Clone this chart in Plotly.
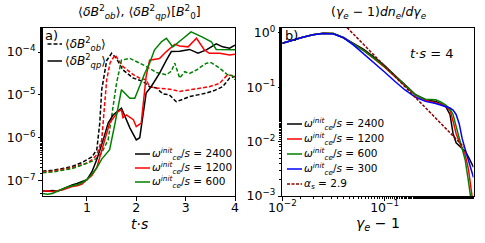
import plotly.graph_objects as go

# ---------------- Panel a) : <dB^2>(t) ----------------
t_ob_2400 = [0.1, 0.3, 0.5, 0.7, 0.9, 1.0, 1.1, 1.2, 1.26, 1.3, 1.4, 1.5, 1.6, 1.73, 1.94, 2.14, 2.27, 2.41, 2.54, 2.67, 2.81, 2.95, 3.08, 3.25, 3.42, 3.58, 3.75, 3.89, 4.0]
ob_2400_log10 = [-6.78, -6.76, -6.72, -6.67, -6.58, -6.51, -6.45, -6.28, -5.66, -4.88, -4.2, -4.03, -4.15, -4.42, -4.61, -4.69, -4.81, -4.84, -4.98, -5.0, -5.16, -5.1, -5.04, -5.0, -4.96, -4.9, -4.81, -4.61, -4.57]

t_ob_1200 = [0.1, 0.3, 0.5, 0.7, 0.9, 1.0, 1.1, 1.2, 1.3, 1.36, 1.4, 1.47, 1.57, 1.73, 1.94, 2.07, 2.2, 2.27, 2.41, 2.6, 2.74, 2.88, 3.08, 3.28, 3.48, 3.69, 3.85, 4.0]
ob_1200_log10 = [-6.80, -6.78, -6.74, -6.70, -6.63, -6.59, -6.52, -6.40, -6.05, -5.27, -4.65, -4.25, -4.07, -4.34, -4.53, -4.61, -4.65, -4.81, -4.84, -4.86, -4.88, -4.92, -4.88, -4.84, -4.81, -4.73, -4.53, -4.57]

t_ob_600 = [0.1, 0.3, 0.5, 0.7, 0.9, 1.0, 1.1, 1.2, 1.3, 1.43, 1.53, 1.6, 1.70, 1.87, 2.14, 2.41, 2.61, 2.71, 2.78, 2.88, 2.98, 3.08, 3.22, 3.42, 3.52, 3.69, 3.85, 3.95, 4.0]
ob_600_log10 = [-6.82, -6.80, -6.76, -6.72, -6.64, -6.59, -6.55, -6.48, -6.35, -6.05, -5.27, -4.73, -4.19, -4.15, -4.30, -4.48, -4.53, -4.45, -4.26, -4.61, -4.46, -4.50, -4.42, -4.26, -4.25, -4.38, -4.53, -4.55, -4.65]

t_qp_2400 = [0.1, 0.2, 0.3, 0.4, 0.5, 0.6, 0.7, 0.8, 0.9, 1.0, 1.1, 1.2, 1.33, 1.43, 1.53, 1.70, 1.87, 2.0, 2.07, 2.2, 2.3, 2.47, 2.61, 2.71, 2.88, 3.08, 3.25, 3.42, 3.62, 3.75, 3.89, 4.0]
qp_2400_log10 = [-7.24, -7.25, -7.23, -7.25, -7.20, -7.15, -7.10, -7.07, -7.03, -6.98, -6.80, -6.51, -6.05, -5.66, -5.47, -5.31, -5.77, -6.05, -6.00, -4.96, -4.81, -4.50, -4.19, -3.99, -3.98, -3.94, -4.03, -3.95, -3.81, -3.88, -3.91, -3.84]

t_qp_1200 = [0.1, 0.2, 0.3, 0.4, 0.5, 0.6, 0.7, 0.8, 0.9, 1.0, 1.1, 1.2, 1.33, 1.46, 1.63, 1.70, 1.73, 1.8, 1.94, 2.0, 2.1, 2.2, 2.27, 2.47, 2.61, 2.78, 2.88, 3.05, 3.22, 3.38, 3.48, 3.69, 3.89, 4.0]
qp_1200_log10 = [-7.25, -7.24, -7.26, -7.24, -7.22, -7.18, -7.14, -7.12, -7.08, -6.98, -6.88, -6.70, -6.20, -5.66, -5.39, -5.35, -5.53, -5.47, -5.58, -5.74, -5.66, -4.57, -4.19, -4.15, -3.99, -3.82, -3.86, -3.88, -3.68, -3.95, -4.03, -4.03, -4.07, -4.05]

t_qp_600 = [0.1, 0.2, 0.3, 0.4, 0.5, 0.6, 0.7, 0.8, 0.9, 1.0, 1.1, 1.2, 1.3, 1.46, 1.57, 1.70, 1.87, 1.97, 2.17, 2.27, 2.37, 2.51, 2.61, 2.74, 2.91, 3.11, 3.32, 3.52, 3.62, 3.8, 4.0]
qp_600_log10 = [-7.30, -7.32, -7.30, -7.25, -7.20, -7.15, -7.12, -7.10, -7.05, -6.98, -6.85, -6.70, -6.50, -6.28, -5.66, -4.88, -5.08, -5.08, -4.50, -4.26, -3.95, -3.76, -3.68, -3.88, -3.72, -3.53, -3.64, -3.76, -3.94, -3.94, -3.95]

# ---------------- Panel b) : (gamma-1) dn/dgamma ----------------
g_log10 = [-2.0, -1.9, -1.8, -1.7, -1.6, -1.5, -1.4, -1.3, -1.2, -1.1, -1.0, -0.9, -0.8, -0.7, -0.6, -0.5, -0.45, -0.4, -0.36, -0.33, -0.3, -0.27, -0.24, -0.21, -0.18, -0.15, -0.13]
f_2400_log10 = [-0.19, -0.13, -0.08, -0.035, -0.005, -0.01, -0.09, -0.2, -0.31, -0.45, -0.6, -0.78, -0.95, -1.13, -1.23, -1.26, -1.3, -1.36, -1.5, -1.85, -2.02, -2.07, -2.12, -2.18, -2.28, -2.4, -2.47]
f_1200_log10 = [-0.19, -0.13, -0.08, -0.035, -0.005, -0.01, -0.09, -0.21, -0.33, -0.48, -0.63, -0.80, -0.97, -1.14, -1.24, -1.28, -1.31, -1.36, -1.42, -1.62, -1.85, -2.0, -2.12, -2.25, -2.5, -2.9, -3.2]
f_600_log10 = [-0.19, -0.13, -0.08, -0.035, -0.005, -0.01, -0.09, -0.21, -0.33, -0.47, -0.62, -0.79, -0.96, -1.14, -1.22, -1.23, -1.27, -1.33, -1.4, -1.5, -1.72, -1.92, -2.1, -2.35, -2.72, -3.15, -3.4]
f_300_log10 = [-0.19, -0.13, -0.08, -0.035, -0.01, -0.02, -0.09, -0.23, -0.39, -0.56, -0.72, -0.89, -1.05, -1.18, -1.26, -1.3, -1.33, -1.36, -1.38, -1.42, -1.5, -1.67, -1.95, -2.15, -2.33, -2.55, -2.66]
powerlaw_gamma = [0.04, 0.6]
powerlaw_value = [1.44, 0.0079]

W, H = 485, 243
FONT = "DejaVu Sans"

def px(x):
    return x / W

def py(y):
    return (H - y) / H

fig = go.Figure()

def add(x, y, color, dash, xa, ya):
    fig.add_trace(go.Scatter(x=x, y=y, mode="lines", xaxis=xa, yaxis=ya,
                             line=dict(color=color, width=1.5, dash=dash),
                             showlegend=False, hoverinfo="skip"))

pw = lambda arr: [10 ** v for v in arr]
DASH = "4px,2px"
add(t_ob_2400, pw(ob_2400_log10), "black", DASH, "x", "y")
add(t_ob_1200, pw(ob_1200_log10), "red", DASH, "x", "y")
add(t_ob_600, pw(ob_600_log10), "green", DASH, "x", "y")
add(t_qp_2400, pw(qp_2400_log10), "black", "solid", "x", "y")
add(t_qp_1200, pw(qp_1200_log10), "red", "solid", "x", "y")
add(t_qp_600, pw(qp_600_log10), "green", "solid", "x", "y")

gx = pw(g_log10)
add(gx, pw(f_2400_log10), "black", "solid", "x2", "y2")
add(gx, pw(f_1200_log10), "red", "solid", "x2", "y2")
add(gx, pw(f_600_log10), "green", "solid", "x2", "y2")
add(gx, pw(f_300_log10), "blue", "solid", "x2", "y2")
add(powerlaw_gamma, powerlaw_value, "#8b0000", "3px,1.5px", "x2", "y2")

sup = lambda e: "10<sup>−%d</sup>" % e if e > 0 else "10<sup>0</sup>"
tickfont = dict(family=FONT, size=12.5, color="black")
axcommon = dict(showline=True, linecolor="black", linewidth=1, mirror=True,
                ticks="outside", ticklen=3.5, tickcolor="black", showgrid=False,
                zeroline=False, tickfont=tickfont, automargin=False)
minor = dict(ticks="outside", ticklen=2, tickcolor="black", showgrid=False)

fig.update_layout(
    width=W, height=H, margin=dict(l=0, r=0, t=0, b=0),
    paper_bgcolor="white", plot_bgcolor="white",
    xaxis=dict(domain=[px(42.5), px(235)], range=[0.1, 4.0], tickvals=[1, 2, 3, 4],
               ticktext=["1", "2", "3", "4"], anchor="y", ticklabelstandoff=-4, **axcommon),
    yaxis=dict(domain=[py(196), py(28)], type="log", range=[-7.36, -3.44],
               tickvals=[1e-7, 1e-6, 1e-5, 1e-4], ticktext=[sup(7), sup(6), sup(5), sup(4)],
               anchor="x", minor=minor, **axcommon),
    xaxis2=dict(domain=[px(282.3), px(473.5)], type="log", range=[-2.0, -0.13],
                tickvals=[1e-2, 1e-1], ticktext=[sup(2), sup(1)], anchor="y2",
                ticklabelstandoff=-4, minor=minor, **axcommon),
    yaxis2=dict(domain=[py(196), py(28)], type="log", range=[-3.0, 0.09],
                tickvals=[1e-3, 1e-2, 1e-1, 1], ticktext=[sup(3), sup(2), sup(1), sup(0)],
                anchor="x2", minor=minor, **axcommon),
)

ann = []
def text(x, y, s, size, xanchor="center", yanchor="middle"):
    ann.append(dict(x=px(x), y=py(y), xref="paper", yref="paper", text=s, showarrow=False,
                    xanchor=xanchor, yanchor=yanchor, borderpad=0,
                    font=dict(family=FONT, size=size, color="black")))

# titles
text(139, 12, "⟨<i>δB</i><sup>2</sup><sub><i>ob</i></sub>⟩, ⟨<i>δB</i><sup>2</sup><sub><i>qp</i></sub>⟩[<i>B</i><sup>2</sup><sub>0</sub>]", 12.5)
text(378, 12, "(<i>γ<sub>e</sub></i> − 1)<i>dn<sub>e</sub></i>/<i>dγ<sub>e</sub></i>", 12.5)
# axis labels
text(139, 224, "<i>t</i>·<i>s</i>", 14)
text(378, 224, "<i>γ<sub>e</sub></i> − 1", 14)
# panel labels
text(44, 35, "a)", 13, xanchor="left")
text(284, 35, "b)", 13, xanchor="left")
text(431, 53, "<i>t</i>·<i>s</i> = 4", 13)

shapes = []
def sample(x0, x1, y, color, dash):
    shapes.append(dict(type="line", xref="paper", yref="paper", x0=px(x0), x1=px(x1),
                       y0=py(y), y1=py(y), line=dict(color=color, width=1.5, dash=dash)))

# legend a) top-left
sample(47.5, 62, 44, "black", DASH)
text(64, 44, "⟨<i>δB</i><sup>2</sup><sub><i>ob</i></sub>⟩", 12, xanchor="left")
sample(47.5, 62, 61, "black", "solid")
text(64, 61, "⟨<i>δB</i><sup>2</sup><sub><i>qp</i></sub>⟩", 12, xanchor="left")

omega = "<i>ω</i><sup><i>init</i></sup><sub><i>ce</i></sub>/<i>s</i> = "
# legend a) bottom-right
for yy, col, lab in [(154, "black", "2400"), (168, "red", "1200"), (182, "green", "600")]:
    sample(135, 150, yy, col, "solid")
    text(151, yy, omega + lab, 10.5, xanchor="left")

# legend b)
for yy, col, lab in [(124, "black", "2400"), (139, "red", "1200"), (154, "green", "600"), (169, "blue", "300")]:
    sample(287, 302, yy, col, "solid")
    text(303, yy, omega + lab, 10.5, xanchor="left")
sample(287, 302, 184, "#8b0000", "3px,1.5px")
text(303, 184, "<i>α<sub>s</sub></i> = 2.9", 10.5, xanchor="left")

fig.update_layout(annotations=ann, shapes=shapes)
fig.write_html("out.html", config={"displayModeBar": False, "staticPlot": True},
               post_script="document.body.style.margin='0px';document.body.style.overflow='hidden';")
